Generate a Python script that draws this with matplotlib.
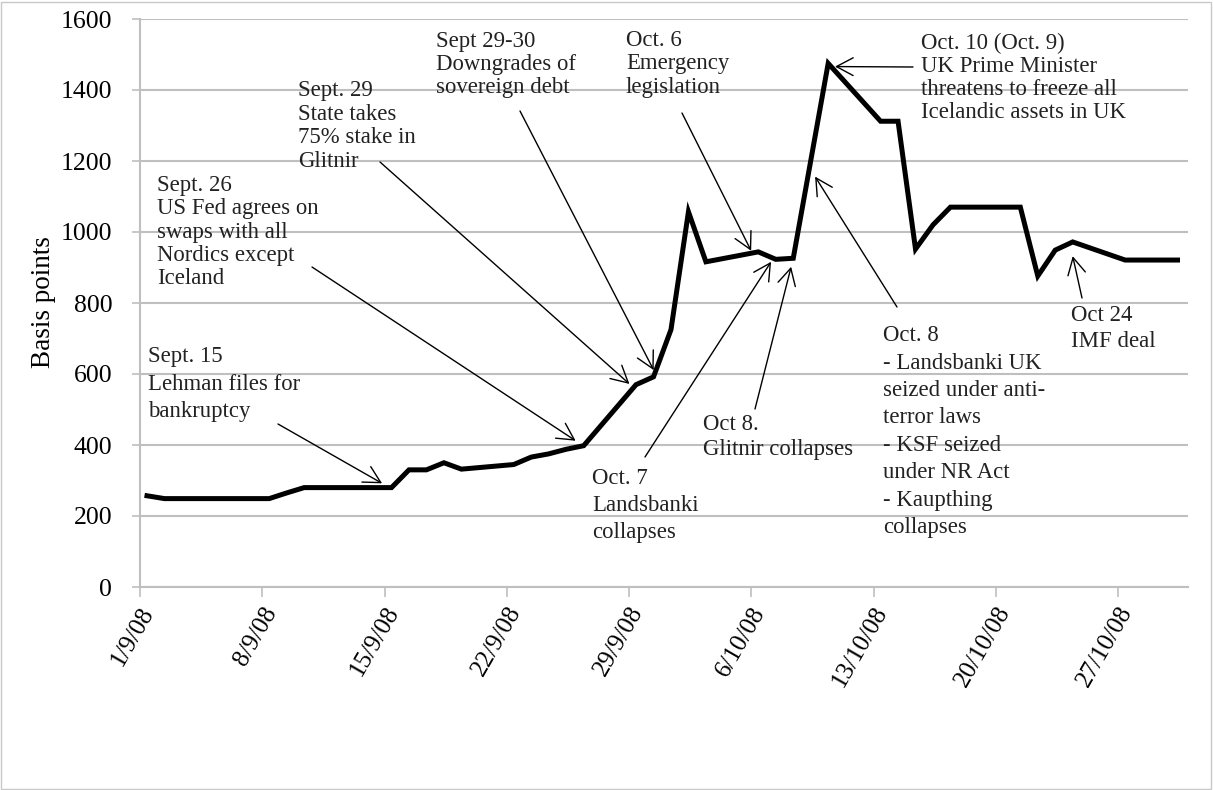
import datetime as dt
import matplotlib
matplotlib.use("Agg")
import matplotlib.pyplot as plt
import matplotlib.dates as mdates
import matplotlib.transforms as mtrans
from matplotlib.patches import Rectangle

# ---------------- data ----------------
dates = ["2008-09-01", "2008-09-02", "2008-09-03", "2008-09-04", "2008-09-05",
         "2008-09-08", "2008-09-09", "2008-09-10", "2008-09-11", "2008-09-12",
         "2008-09-15", "2008-09-16", "2008-09-17", "2008-09-18", "2008-09-19",
         "2008-09-22", "2008-09-23", "2008-09-24", "2008-09-25", "2008-09-26",
         "2008-09-29", "2008-09-30", "2008-10-01", "2008-10-02", "2008-10-03",
         "2008-10-06", "2008-10-07", "2008-10-08", "2008-10-10",
         "2008-10-13", "2008-10-14", "2008-10-15", "2008-10-16", "2008-10-17",
         "2008-10-20", "2008-10-21", "2008-10-22", "2008-10-23", "2008-10-24",
         "2008-10-27", "2008-10-28", "2008-10-29", "2008-10-30"]
spread_bp = [257, 249, 249, 249, 249,
             249, 265, 280, 280, 280,
             280, 330, 330, 350, 332,
             345, 366, 375, 388, 398,
             570, 592, 725, 1057, 916,
             944, 923, 926, 1475,
             1312, 1312, 952, 1020, 1070,
             1070, 1070, 876, 949, 972,
             921, 921, 921, 921]

tick_dates = ["2008-09-01", "2008-09-08", "2008-09-15", "2008-09-22", "2008-09-29",
              "2008-10-06", "2008-10-13", "2008-10-20", "2008-10-27"]
tick_labels = ["1/9/08", "8/9/08", "15/9/08", "22/9/08", "29/9/08",
               "6/10/08", "13/10/08", "20/10/08", "27/10/08"]
y_ticks = [0, 200, 400, 600, 800, 1000, 1200, 1400, 1600]
y_label = "Basis points"

# annotation texts
ann_texts = [
    "Sept. 15\nLehman files for\nbankruptcy",
    "Sept. 26\nUS Fed agrees on\nswaps with all\nNordics except\nIceland",
    "Sept. 29\nState takes\n75% stake in\nGlitnir",
    "Sept 29-30\nDowngrades of\nsovereign debt",
    "Oct. 6\nEmergency\nlegislation",
    "Oct. 10 (Oct. 9)\nUK Prime Minister\nthreatens to freeze all\nIcelandic assets in UK",
    "Oct. 7\nLandsbanki\ncollapses",
    "Oct 8.\nGlitnir collapses",
    "Oct. 8\n- Landsbanki UK\nseized under anti-\nterror laws\n- KSF seized\nunder NR Act\n- Kaupthing\ncollapses",
    "Oct 24\nIMF deal",
]

# ---------------- style / layout ----------------
plt.rcParams["font.family"] = ["Liberation Serif", "DejaVu Serif"]
W, H = 1213, 790
fig = plt.figure(figsize=(W / 100, H / 100), dpi=100)
ax = fig.add_axes([140 / W, 1 - 587 / H, (1188 - 140) / W, (587 - 19) / H])

GRID = "#bfbfbf"
start = mdates.date2num(dt.datetime(2008, 9, 1))
x = [mdates.date2num(dt.datetime.fromisoformat(d)) + 0.4 for d in dates]

ax.set_ylim(0, 1600)
ax.set_xlim(start, start + 60)
ax.set_yticks(y_ticks)
ax.yaxis.grid(True, color=GRID, lw=1.5)
ax.set_axisbelow(True)
ax.plot(x, spread_bp, color="black", lw=3.6, solid_joinstyle="miter", zorder=3)

for s in ["top", "right"]:
    ax.spines[s].set_visible(False)
for s in ["left", "bottom"]:
    ax.spines[s].set_color(GRID)
    ax.spines[s].set_linewidth(1.5)

ax.tick_params(axis="y", length=6, width=1.2, color=GRID, labelsize=18.5, pad=14)
ax.set_yticklabels([str(v) for v in y_ticks])
ax.set_xticks([mdates.date2num(dt.datetime.fromisoformat(d)) for d in tick_dates])
ax.set_xticklabels(tick_labels, rotation=60, ha="right", va="center",
                   rotation_mode="anchor", fontsize=18)
ax.tick_params(axis="x", length=7, width=1.2, color=GRID, pad=4)
off = mtrans.ScaledTranslation(9 / 100, -6 / 100, fig.dpi_scale_trans)
for lab in ax.get_xticklabels():
    lab.set_transform(lab.get_transform() + off)

ax.set_ylabel(y_label, fontsize=19.5)
ax.yaxis.set_label_coords(-84 / (1188 - 140), (587 - 302) / (587 - 19))

# text blocks: (left px, last-line baseline px from top, linespacing)
text_pos = [(148, 417, 1.40), (157, 284, 1.14), (298, 167, 1.16), (436, 93, 1.14),
            (626, 93, 1.16), (921, 118, 1.12), (592, 538, 1.38), (703, 455, 1.25),
            (883, 533, 1.40), (1071, 347, 1.32)]
for t, (px, py, ls) in zip(ann_texts, text_pos):
    fig.text(px / W, 1 - py / H, t, ha="left", va="baseline", fontsize=16.4,
             linespacing=ls, color="#222222", zorder=5)

# arrows: tail in figure pixels (from top), head in (days after 1 Sep, bp)
arrow_tails = [(278, 424), (312, 267), (380, 162), (520, 111), (682, 113),
               (913, 67), (645, 457), (755, 409), (897, 307), (1082, 298)]
arrow_heads = [(13.86, 292), (24.94, 412), (28.02, 572), (29.41, 611), (34.99, 947),
               (39.79, 1466), (36.13, 916), (37.28, 902), (38.65, 1156), (53.40, 932)]
for (tx, ty), (hd, hv) in zip(arrow_tails, arrow_heads):
    ax.annotate("", xy=(start + hd, hv), xycoords="data",
                xytext=(tx, H - ty), textcoords="figure pixels",
                arrowprops=dict(arrowstyle="->,head_length=0.75,head_width=0.4",
                                color="black", lw=1.0, shrinkA=0, shrinkB=0,
                                mutation_scale=16),
                annotation_clip=False, zorder=4)

fig.patches.append(Rectangle((1 / W, 1 / H), (W - 3) / W, (H - 3) / H,
                             transform=fig.transFigure, fill=False,
                             edgecolor="#c8c8c8", lw=1.0))

fig.savefig("out.png", dpi=100)
